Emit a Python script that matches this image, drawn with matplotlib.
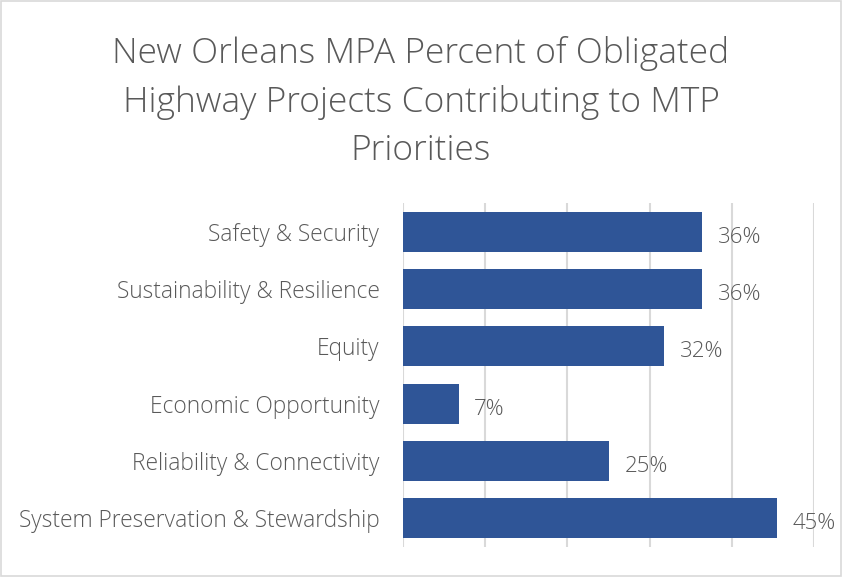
import numpy as np
import matplotlib.pyplot as plt
from matplotlib.patches import Rectangle

categories = ['Safety & Security', 'Sustainability & Resilience', 'Equity',
              'Economic Opportunity', 'Reliability & Connectivity',
              'System Preservation & Stewardship']
values = [36.4, 36.4, 31.8, 6.8, 25.1, 45.5]
value_labels = ['36%', '36%', '32%', '7%', '25%', '45%']
title = 'New Orleans MPA Percent of Obligated\nHighway Projects Contributing to MTP\nPriorities'

text_color = '#595959'
bar_color = '#2f5597'
grid_color = '#d9d9d9'

plt.rcParams['font.family'] = ['Open Sans', 'DejaVu Sans']

fig = plt.figure(figsize=(8.42, 5.77), dpi=100)
ax = fig.add_axes([403 / 842, 1 - 547 / 577, (814 - 403) / 842, (547 - 203) / 577])

# chart area border
fig.patches.append(Rectangle((0.001, 0.002), 0.998, 0.996, transform=fig.transFigure,
                             fill=False, edgecolor='#d9d9d9', lw=1.2))

y = np.arange(len(categories))
ax.barh(y, values, height=0.7, color=bar_color, zorder=3)

for yi, v, lab in zip(y, values, value_labels):
    ax.annotate(lab, (v, yi), xytext=(11, -4), textcoords='offset points',
                ha='left', va='center', fontsize=16, color=text_color,
                fontweight='light', zorder=4)

ax.set_xlim(0, 50)
ax.set_ylim(len(categories) - 0.5, -0.5)
ax.set_xticks(np.arange(0, 51, 10))
ax.set_xticklabels([])
ax.tick_params(axis='x', length=0)
ax.grid(axis='x', color=grid_color, lw=1.5, zorder=0)
ax.set_yticks(y)
ax.set_yticklabels(categories, fontsize=16.4, color=text_color, fontweight='light')
ax.tick_params(axis='y', length=0, pad=17)
for s in ax.spines.values():
    s.set_visible(False)

fig.text(0.5, 1 - 102 / 577, title, ha='center', va='center', fontsize=25.5,
         color=text_color, fontweight='light', linespacing=1.5)

fig.savefig('out.png', dpi=100)
